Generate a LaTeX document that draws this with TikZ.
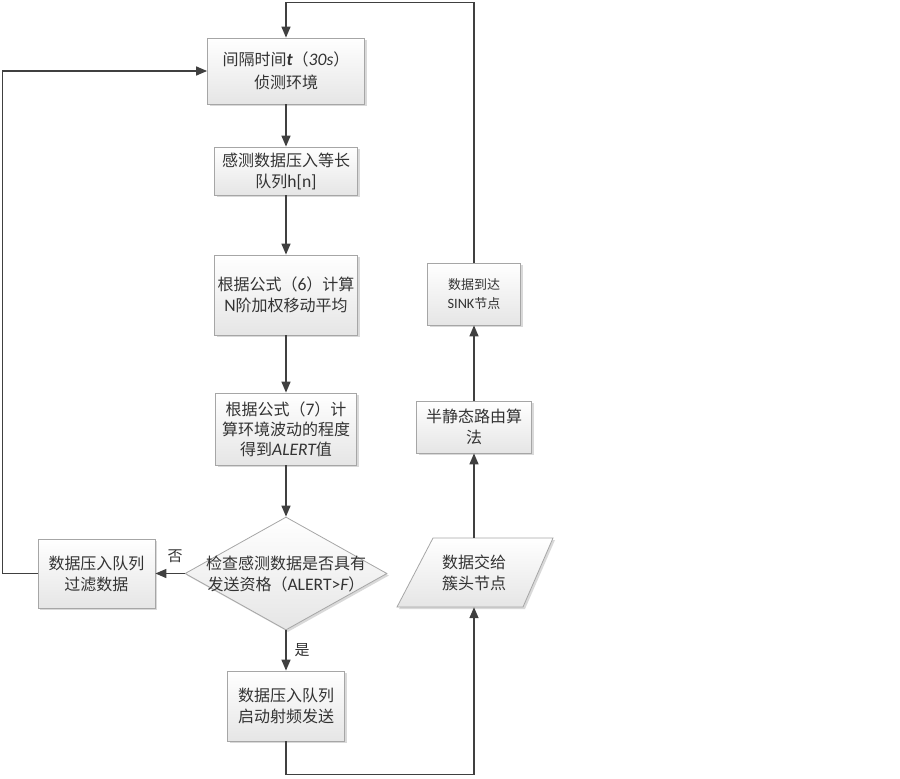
\documentclass[tikz,border=0pt]{standalone}
\usepackage{fontspec}
\setmainfont{Noto Sans CJK SC}
\newfontfamily\lat[Scale=1.1]{Carlito}
\usetikzlibrary{arrows.meta,shapes.geometric,shadows,calc}
\definecolor{linec}{HTML}{404040}
\definecolor{bordc}{HTML}{A6A6A6}
\definecolor{txtc}{HTML}{333333}
\begin{document}
\begin{tikzpicture}[x=1pt,y=-1pt,
  shapefill/.style={draw=bordc, line width=0.8pt, top color=white, bottom color=black!10,
    drop shadow={shadow xshift=2pt, shadow yshift=-2pt, fill=black!25, opacity=0.6}},
  box/.style={shapefill, rectangle, align=center, text=txtc, inner sep=0pt,
    font=\fontsize{16}{21}\selectfont},
  txt/.style={align=center, text=txtc, inner sep=0pt, font=\fontsize{16}{21}\selectfont},
  lbl/.style={text=txtc, inner sep=0pt, font=\fontsize{15}{18}\selectfont},
  conn/.style={draw=linec, line width=1.5pt, -{Triangle[length=11pt,width=9pt]}}]
\useasboundingbox (0,0) rectangle (900,779);

% left/main column
\node[box, minimum width=157pt, minimum height=66pt, font=\fontsize{16}{23}\selectfont] (b1) at (286,71)
  {间隔时间{\lat\bfseries\itshape t}（{\lat\itshape 30s}）\\侦测环境};
\node[box, minimum width=143pt, minimum height=48pt] (b2) at (286,171)
  {感测数据压入等长\\队列{\lat h[n]}};
\node[box, minimum width=143pt, minimum height=80pt] (b3) at (286,295)
  {根据公式（{\lat 6}）计算\\{\lat N}阶加权移动平均};
\node[box, minimum width=141pt, minimum height=72pt, font=\fontsize{16}{20}\selectfont] (b4) at (286,429)
  {根据公式（{\lat 7}）计\\算环境波动的程度\\得到{\lat\itshape ALERT}值};
\node[shapefill, diamond, minimum width=202pt, minimum height=113pt, inner sep=0pt] (dm) at (286,573.5) {};
\node[txt] (dt) at (dm.center)
  {检查感测数据是否具有\\发送资格（{\lat ALERT>{\itshape F}}）};
\node[box, minimum width=117pt, minimum height=69pt] (lb) at (96.5,573.5)
  {数据压入队列\\过滤数据};
\node[box, minimum width=117pt, minimum height=70pt] (bb) at (286,706)
  {数据压入队列\\启动射频发送};

% right column
\node[minimum width=100pt, minimum height=69pt, inner sep=0pt] (pa) at (474,572.5) {};
\path[shapefill] ($(pa.center)+(-41,-34.5)$) -- ($(pa.center)+(79,-34.5)$)
  -- ($(pa.center)+(49,34.5)$) -- ($(pa.center)+(-77,34.5)$) -- cycle;
\node[txt] (pt) at (pa.center) {数据交给\\簇头节点};
\node[box, minimum width=115pt, minimum height=52pt] (rs) at (474,427)
  {半静态路由算\\法};
\node[box, minimum width=93pt, minimum height=62pt, font=\fontsize{13}{19}\selectfont] (sk) at (474,294)
  {数据到达\\{\lat SINK}节点};

% connectors
\draw[conn] (b1.south) -- (b2.north);
\draw[conn] (b2.south) -- (b3.north);
\draw[conn] (b3.south) -- (b4.north);
\draw[conn] (b4.south) -- (dm.north);
\draw[conn] (dm.west) -- (lb.east);
\draw[conn] (dm.south) -- (bb.north);
\draw[conn] (lb.west) -- ++(-35,0) |- (b1.west);
\draw[conn] (bb.south) -- ++(0,33) -| (pa.south);
\draw[conn] (pa.north) -- (rs.south);
\draw[conn] (rs.north) -- (sk.south);
\draw[conn] (sk.north) -- ++(0,-260) -| (b1.north);

\node[lbl] (no) at (175,556) {否};
\node[lbl] (yes) at (302,650) {是};
\end{tikzpicture}
\end{document}
